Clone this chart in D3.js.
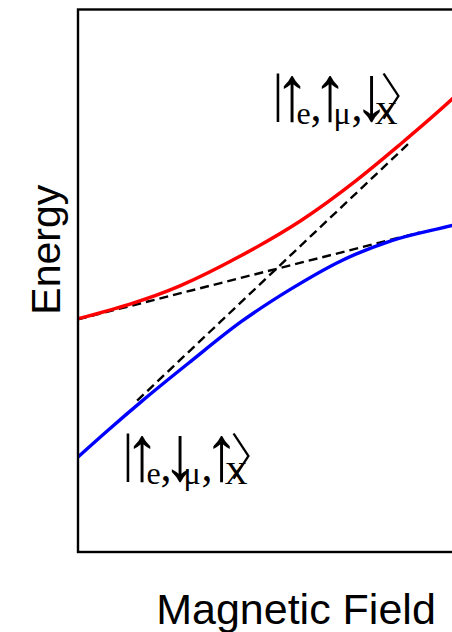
<!DOCTYPE html>
<html>
<head>
<meta charset="utf-8">
<script src="https://cdn.jsdelivr.net/npm/d3@7"></script>
<style>
  html, body { margin: 0; padding: 0; background: #fff; }
  svg { display: block; }
</style>
</head>
<body>
<script>
// upper branch (red) and lower branch (blue)
const redField = [0, 2.67, 4.24, 5.81, 7.25, 8.35, 9.79, 10];
const redEnergy = [4.30, 4.91, 5.46, 6.11, 6.85, 7.49, 8.38, 8.52];
const blueField = [0, 0.76, 1.68, 2.93, 4.24, 5.55, 6.86, 8.17, 9.79, 10];
const blueEnergy = [1.75, 2.23, 2.79, 3.51, 4.24, 4.85, 5.37, 5.74, 6.03, 6.07];

// uncoupled states (dashed)
const flatField = [0, 8.90];
const flatEnergy = [4.29, 5.89];
const steepField = [1.54, 8.64];
const steepEnergy = [2.79, 7.55];

// state labels
const upperSpins = ['↑', '↑', '↓'];
const lowerSpins = ['↑', '↓', '↑'];
const particles = ['e', 'μ', 'X'];

const width = 452, height = 632;
const plot = { left: 78, right: 462, top: 9.5, bottom: 552 };

const svg = d3.select('body').append('svg')
    .attr('width', width)
    .attr('height', height);

const x = d3.scaleLinear().domain([0, 10]).range([plot.left, plot.right]);
const y = d3.scaleLinear().domain([0, 10]).range([plot.bottom, plot.top]);

svg.append('clipPath').attr('id', 'clip')
    .append('rect')
    .attr('x', plot.left).attr('y', plot.top)
    .attr('width', plot.right - plot.left).attr('height', plot.bottom - plot.top);

const g = svg.append('g').attr('clip-path', 'url(#clip)');

const zip = (xs, ys) => xs.map((d, i) => [d, ys[i]]);
const line = d3.line().x(d => x(d[0])).y(d => y(d[1])).curve(d3.curveMonotoneX);

g.selectAll('path.diabatic')
    .data([zip(flatField, flatEnergy), zip(steepField, steepEnergy)])
    .enter().append('path')
    .attr('class', 'diabatic')
    .attr('fill', 'none')
    .attr('stroke', '#000')
    .attr('stroke-width', 2.4)
    .attr('stroke-dasharray', '9,5')
    .attr('d', d3.line().x(d => x(d[0])).y(d => y(d[1])));

g.selectAll('path.branch')
    .data([
        { pts: zip(redField, redEnergy), color: '#ff0000' },
        { pts: zip(blueField, blueEnergy), color: '#0000ff' }
    ])
    .enter().append('path')
    .attr('class', 'branch')
    .attr('fill', 'none')
    .attr('stroke', d => d.color)
    .attr('stroke-width', 3.4)
    .attr('d', d => line(d.pts));

// frame
svg.append('rect')
    .attr('x', plot.left).attr('y', plot.top)
    .attr('width', plot.right - plot.left).attr('height', plot.bottom - plot.top)
    .attr('fill', 'none')
    .attr('stroke', '#000')
    .attr('stroke-width', 2.4);

// axis titles
svg.append('text')
    .attr('transform', `translate(60,${(plot.top + plot.bottom) / 2 - 31}) rotate(-90)`)
    .attr('text-anchor', 'middle')
    .style('font-family', 'Liberation Sans, Arial, sans-serif')
    .style('font-size', '41px')
    .text('Energy');

svg.append('text')
    .attr('x', 296).attr('y', 624)
    .attr('text-anchor', 'middle')
    .style('font-family', 'Liberation Sans, Arial, sans-serif')
    .style('font-size', '43px')
    .text('Magnetic Field');

// ket label |s_e, s_mu, s_X>
function ket(x0, top, spins) {
    const k = svg.append('g')
        .attr('transform', `translate(${x0},${top})`)
        .style('font-family', 'Liberation Serif, Times New Roman, serif');
    const put = (t, dx, dy, size) => k.append('text')
        .attr('x', dx).attr('y', dy)
        .attr('text-anchor', 'middle')
        .style('font-size', size + 'px')
        .text(t);
    put('|', 0, 36, 52);
    const arrowX = [14, 52, 93.5];
    const subX = [25.5, 64, 108];
    spins.forEach((s, i) => {
        k.append('text')
            .attr('transform', `translate(${arrowX[i]},45) scale(0.9,1)`)
            .attr('text-anchor', 'middle')
            .style('font-size', '78px')
            .text(s);
        put(particles[i], subX[i], 49, 32);
    });
    put(',', 38, 46, 44);
    put(',', 79, 46, 44);
    k.append('text')
        .attr('x', 127).attr('y', 40)
        .attr('text-anchor', 'middle')
        .style('font-family', 'Noto Sans CJK JP, sans-serif')
        .style('font-weight', 300)
        .style('font-size', '50px')
        .text('〉');
}

ket(278, 75, upperSpins);
ket(128, 435, lowerSpins);
</script>
</body>
</html>
